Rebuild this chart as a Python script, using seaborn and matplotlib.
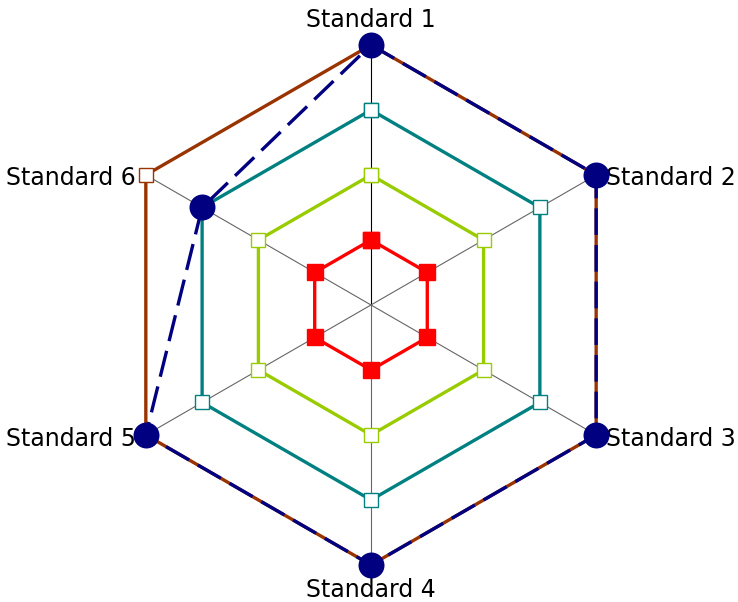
import numpy as np
import pandas as pd
import matplotlib
matplotlib.use("Agg")
import matplotlib.pyplot as plt
import seaborn as sns

categories = ["Standard 1", "Standard 2", "Standard 3",
              "Standard 4", "Standard 5", "Standard 6"]
level_1 = [1, 1, 1, 1, 1, 1]
level_2 = [2, 2, 2, 2, 2, 2]
level_3 = [3, 3, 3, 3, 3, 3]
level_4 = [4, 4, 4, 4, 4, 4]
actual = [4, 4, 4, 4, 4, 3]

sns.set_style("white")
plt.rcParams["font.family"] = ["DejaVu Sans"]
plt.rcParams["text.color"] = "black"

n = len(categories)
angles = np.linspace(0, 2 * np.pi, n, endpoint=False)


def closed(values):
    return pd.DataFrame({
        "theta": np.append(angles, angles[0]),
        "r": values + values[:1],
    })


fig = plt.figure(figsize=(7.38, 6.02), dpi=100)
ax = fig.add_axes([0.1504, 0.0615, 0.7046, 0.8638], projection="polar")
ax.set_theta_offset(np.pi / 2)
ax.set_theta_direction(-1)
ax.set_ylim(0, 4)

series = [
    (level_1, "#ff0000", "#ff0000", 11),
    (level_2, "#99cc00", "white", 10),
    (level_3, "#008080", "white", 10),
    (level_4, "#993300", "white", 10),
]
for values, color, face, ms in series:
    sns.lineplot(
        data=closed(values), x="theta", y="r", sort=False, estimator=None,
        ax=ax, color=color, linewidth=2.4, marker="s", markersize=ms,
        markerfacecolor=face, markeredgecolor=color, markeredgewidth=1.0,
        clip_on=False, zorder=3
    )

sns.lineplot(
    data=closed(actual), x="theta", y="r", sort=False, estimator=None,
    ax=ax, color="#000080", linewidth=2.4, linestyle=(0, (8, 3)),
    clip_on=False, zorder=4
)
sns.scatterplot(
    x=angles, y=actual, ax=ax, color="#000080", s=300,
    edgecolor="#000080", clip_on=False, zorder=5
)

ax.set_xticks(angles)
ax.set_xticklabels([])
ax.set_yticks([])
ax.xaxis.grid(True, color="#666666", linewidth=0.8)
ax.xaxis.get_gridlines()[0].set_color("black")
ax.spines["polar"].set_visible(False)
ax.set_xlabel("")
ax.set_ylabel("")

offsets = [(0, 18, "center"), (7, -2, "left"), (7, -3, "left"),
           (0, -18, "center"), (-7, -3, "right"), (-7, -2, "right")]
for ang, label, (dx, dy, ha) in zip(angles, categories, offsets):
    ax.annotate(label, xy=(ang, 4), xytext=(dx, dy),
                textcoords="offset points", ha=ha, va="center",
                fontsize=17, color="black", annotation_clip=False)

fig.savefig("out.png", dpi=100)
